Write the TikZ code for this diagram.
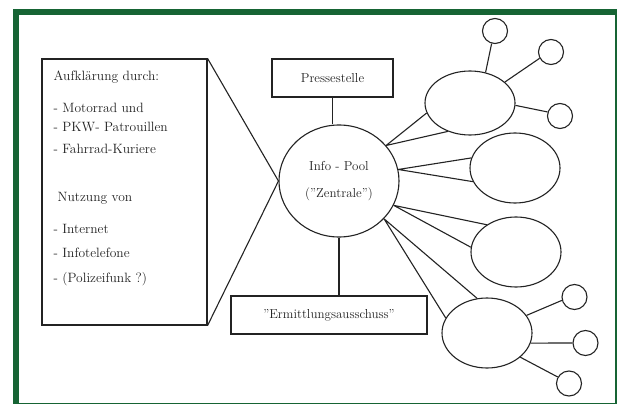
\documentclass[tikz,border=0pt]{standalone}
\usetikzlibrary{shapes.geometric}
\definecolor{framegreen}{RGB}{22,100,52}
\definecolor{ink}{RGB}{35,35,35}

\begin{document}
\begin{tikzpicture}[
  x=1pt,y=-1pt,
  box/.style={draw=ink,line width=1.1pt,rectangle,minimum height=38pt,inner sep=0pt,text=ink,font=\fontsize{13}{15}\selectfont},
  hub/.style={draw=ink,line width=1.1pt,ellipse,minimum width=120pt,minimum height=112pt,inner sep=0pt,align=center,text=ink,font=\fontsize{13}{27}\selectfont},
  grp/.style={draw=ink,line width=1.1pt,ellipse,minimum width=90pt,minimum height=70pt,inner sep=0pt},
  leaf/.style={draw=ink,line width=1.1pt,circle,minimum size=25pt,inner sep=0pt},
  link/.style={draw=ink,line width=1.1pt}
]
\useasboundingbox (0,0) rectangle (619,404);
% green frame
\fill[framegreen] (13,9) rectangle (617,404);
\fill[white] (19,15) rectangle (614.5,402.5);

% left info box
\node[box,minimum width=165pt,minimum height=266pt] (auf) at (124.5,192) {};
\node[anchor=north west,inner sep=0pt,align=left,text=ink,font=\fontsize{13.5}{22}\selectfont]
  (auftext) at ([xshift=12pt,yshift=-12pt]auf.north west)
  {Aufklärung durch:\\[10pt]
   - Motorrad und\\[-3pt]
   - PKW- Patrouillen\\
   - Fahrrad-Kuriere\\[26pt]
   \hspace*{4pt}Nutzung von\\[10pt]
   - Internet\\[2pt]
   - Infotelefone\\[3pt]
   - (Polizeifunk ?)};

% centre and boxes
\node[hub] (hub) at (339,181) {Info - Pool\\("Zentrale")};
\node[box,minimum width=121pt] (press) at (332.5,78) {Pressestelle};
\node[box,minimum width=196pt] (ermitt) at (329,315) {"Ermittlungsausschuss"};

% groups
\node[grp,minimum height=64pt] (g1) at (470,103) {};
\node[grp] (g2) at (515,168) {};
\node[grp] (g3) at (516,252) {};
\node[grp] (g4) at (487,333) {};

% small circles
\node[leaf] (l1) at (495,31) {};
\node[leaf] (l2) at (551,52) {};
\node[leaf] (l3) at (560,116) {};
\node[leaf] (l4) at (574.5,297) {};
\node[leaf] (l5) at (585.5,343) {};
\node[leaf] (l6) at (569,383.5) {};

% connectors
\draw[link] (auf.north east) -- (hub.west) -- (auf.south east);
\draw[link] (press.south) -- (press.south |- hub.north);
\draw[link] (hub.south) -- (hub.south |- ermitt.north);
\draw[link] (hub.37) -- (g1.193) (hub.37) -- (g1.232);
\draw[link] (hub.11) -- (g2.167) (hub.11) -- (g2.198);
\draw[link] (hub.-24) -- (g3.137) (hub.-24) -- (g3.174);
\draw[link] (hub.-40) -- (g4.106) (hub.-40) -- (g4.160);
\draw[link] (g1.63) -- (l1.255);
\draw[link] (g1.31) -- (l2.209);
\draw[link] (g1.-3) -- (l3.162);
\draw[link] (g4.24) -- (l4.195);
\draw[link] (g4.-13) -- (l5.180);
\draw[link] (g4.-36) -- (l6.150);
\end{tikzpicture}
\end{document}
